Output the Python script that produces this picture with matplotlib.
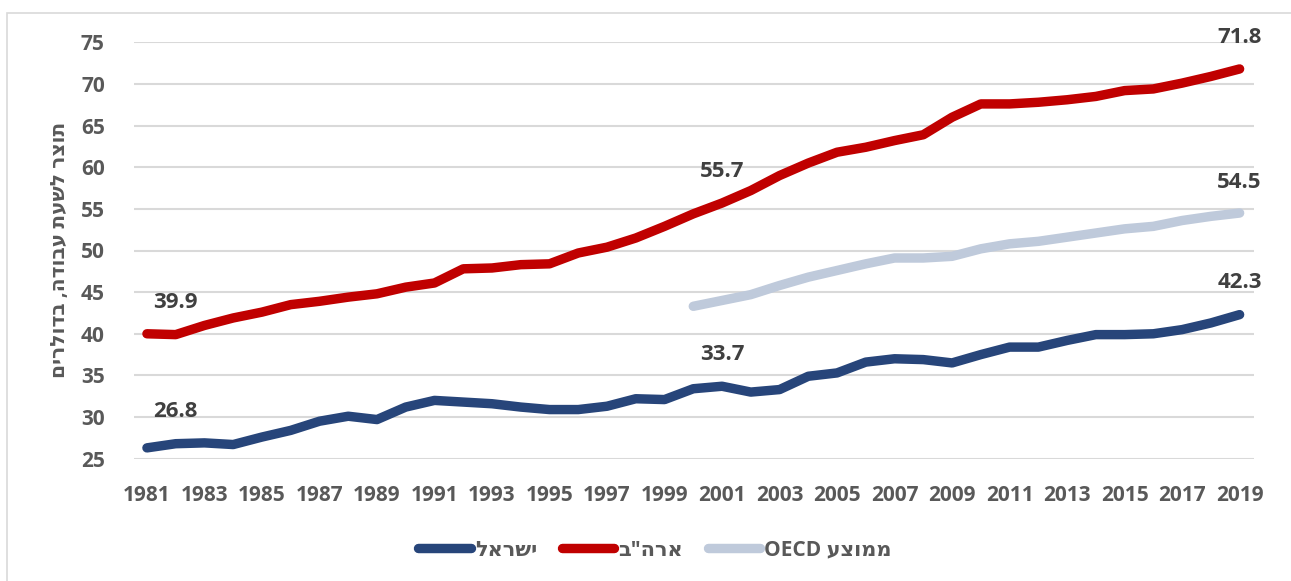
import matplotlib
matplotlib.use("Agg")
import matplotlib.pyplot as plt
from matplotlib.patches import Rectangle

years = list(range(1981, 2020))
israel = [26.3, 26.8, 26.9, 26.7, 27.6, 28.4, 29.5, 30.1, 29.7, 31.2,
          32.0, 31.8, 31.6, 31.2, 30.9, 30.9, 31.3, 32.2, 32.1, 33.4,
          33.7, 33.0, 33.3, 34.9, 35.3, 36.6, 37.0, 36.9, 36.5, 37.5,
          38.4, 38.4, 39.2, 39.9, 39.9, 40.0, 40.5, 41.3, 42.3]
usa = [40.0, 39.9, 41.0, 41.9, 42.6, 43.5, 43.9, 44.4, 44.8, 45.6,
       46.1, 47.8, 47.9, 48.3, 48.4, 49.7, 50.4, 51.5, 52.9, 54.4,
       55.7, 57.2, 59.0, 60.5, 61.8, 62.4, 63.2, 63.9, 66.0, 67.6,
       67.6, 67.8, 68.1, 68.5, 69.2, 69.4, 70.1, 70.9, 71.8]
oecd_years = list(range(2000, 2020))
oecd = [43.3, 44.0, 44.7, 45.8, 46.8, 47.6, 48.4, 49.1, 49.1, 49.3,
        50.2, 50.8, 51.1, 51.6, 52.1, 52.6, 52.9, 53.6, 54.1, 54.5]

yticks = [25, 30, 35, 40, 45, 50, 55, 60, 65, 70, 75]
xtick_years = list(range(1981, 2020, 2))

# Hebrew strings (logical order) -> reversed for LTR rendering
label_israel = "ישראל"
label_usa = 'ארה"ב'
label_oecd = "ממוצע"
ylabel_text = "תוצר לשעת עבודה, בדולרים"

def vis(s):
    return s[::-1]

# data-label annotations
annot_israel = [(1982, 26.8), (2001, 33.7), (2019, 42.3)]
annot_usa = [(1982, 39.9), (2001, 55.7), (2019, 71.8)]
annot_oecd = [(2019, 54.5)]

FONT = ['Open Sans', 'DejaVu Sans']
plt.rcParams['font.family'] = FONT

W, H = 1291, 581
fig = plt.figure(figsize=(W / 100, H / 100), dpi=100)
fig.patches.append(Rectangle((7 / W, -0.01), 1.2, 1 - 13 / H + 0.01,
                             transform=fig.transFigure, fill=False,
                             edgecolor='#D9D9D9', linewidth=1.2))

ax = fig.add_axes([134 / W, 1 - 458.7 / H, (1254 - 134) / W, (458.7 - 42.3) / H])

c_isr = '#27457A'
c_usa = '#C00000'
c_oecd = '#BFCADB'
lw = 6.8
kw = dict(solid_capstyle='round', solid_joinstyle='round', linewidth=lw, clip_on=False)
l1, = ax.plot(years, israel, color=c_isr, label=vis(label_israel), **kw)
l2, = ax.plot(years, usa, color=c_usa, label=vis(label_usa), **kw)
l3, = ax.plot(oecd_years, oecd, color=c_oecd, label="OECD " + vis(label_oecd), **kw)

ax.set_xlim(1980.55, 2019.5)
ax.set_ylim(25, 75)
ax.set_yticks(yticks)
ax.set_xticks(xtick_years)
ax.set_xticklabels([str(y) for y in xtick_years])
ax.grid(axis='y', color='#D9D9D9', linewidth=1.5)
ax.set_axisbelow(True)
for s in ax.spines.values():
    s.set_visible(False)
ax.tick_params(axis='both', length=0, labelcolor='#595959', labelsize=15)
ax.tick_params(axis='y', pad=21)
ax.tick_params(axis='x', pad=19)
for t in ax.get_xticklabels() + ax.get_yticklabels():
    t.set_fontweight('bold')

lab_kw = dict(fontsize=16, fontweight='bold', color='#404040', ha='center', va='center')
for (x, v) in annot_israel:
    ax.annotate(f"{v:.1f}", (x, v), xytext=(0, 23), textcoords='offset points', **lab_kw)
for (x, v) in annot_usa:
    ax.annotate(f"{v:.1f}", (x, v), xytext=(0, 23), textcoords='offset points', **lab_kw)
for (x, v) in annot_oecd:
    ax.annotate(f"{v:.1f}", (x, v), xytext=(0, 22), textcoords='offset points', **lab_kw)

fig.text(60 / W, 1 - 250 / H, vis(ylabel_text), rotation=90, ha='center', va='center',
         fontsize=14.5, fontweight='bold', color='#595959')

leg = fig.legend(handles=[l1, l2, l3], loc='center', bbox_to_anchor=(655 / W, 1 - 550 / H),
                 ncol=3, frameon=False, handlelength=2.5, handletextpad=0.2,
                 columnspacing=1.2, prop={'size': 15, 'weight': 'bold'})
for t in leg.get_texts():
    t.set_color('#595959')

fig.savefig('out.png', dpi=100, facecolor='white')
